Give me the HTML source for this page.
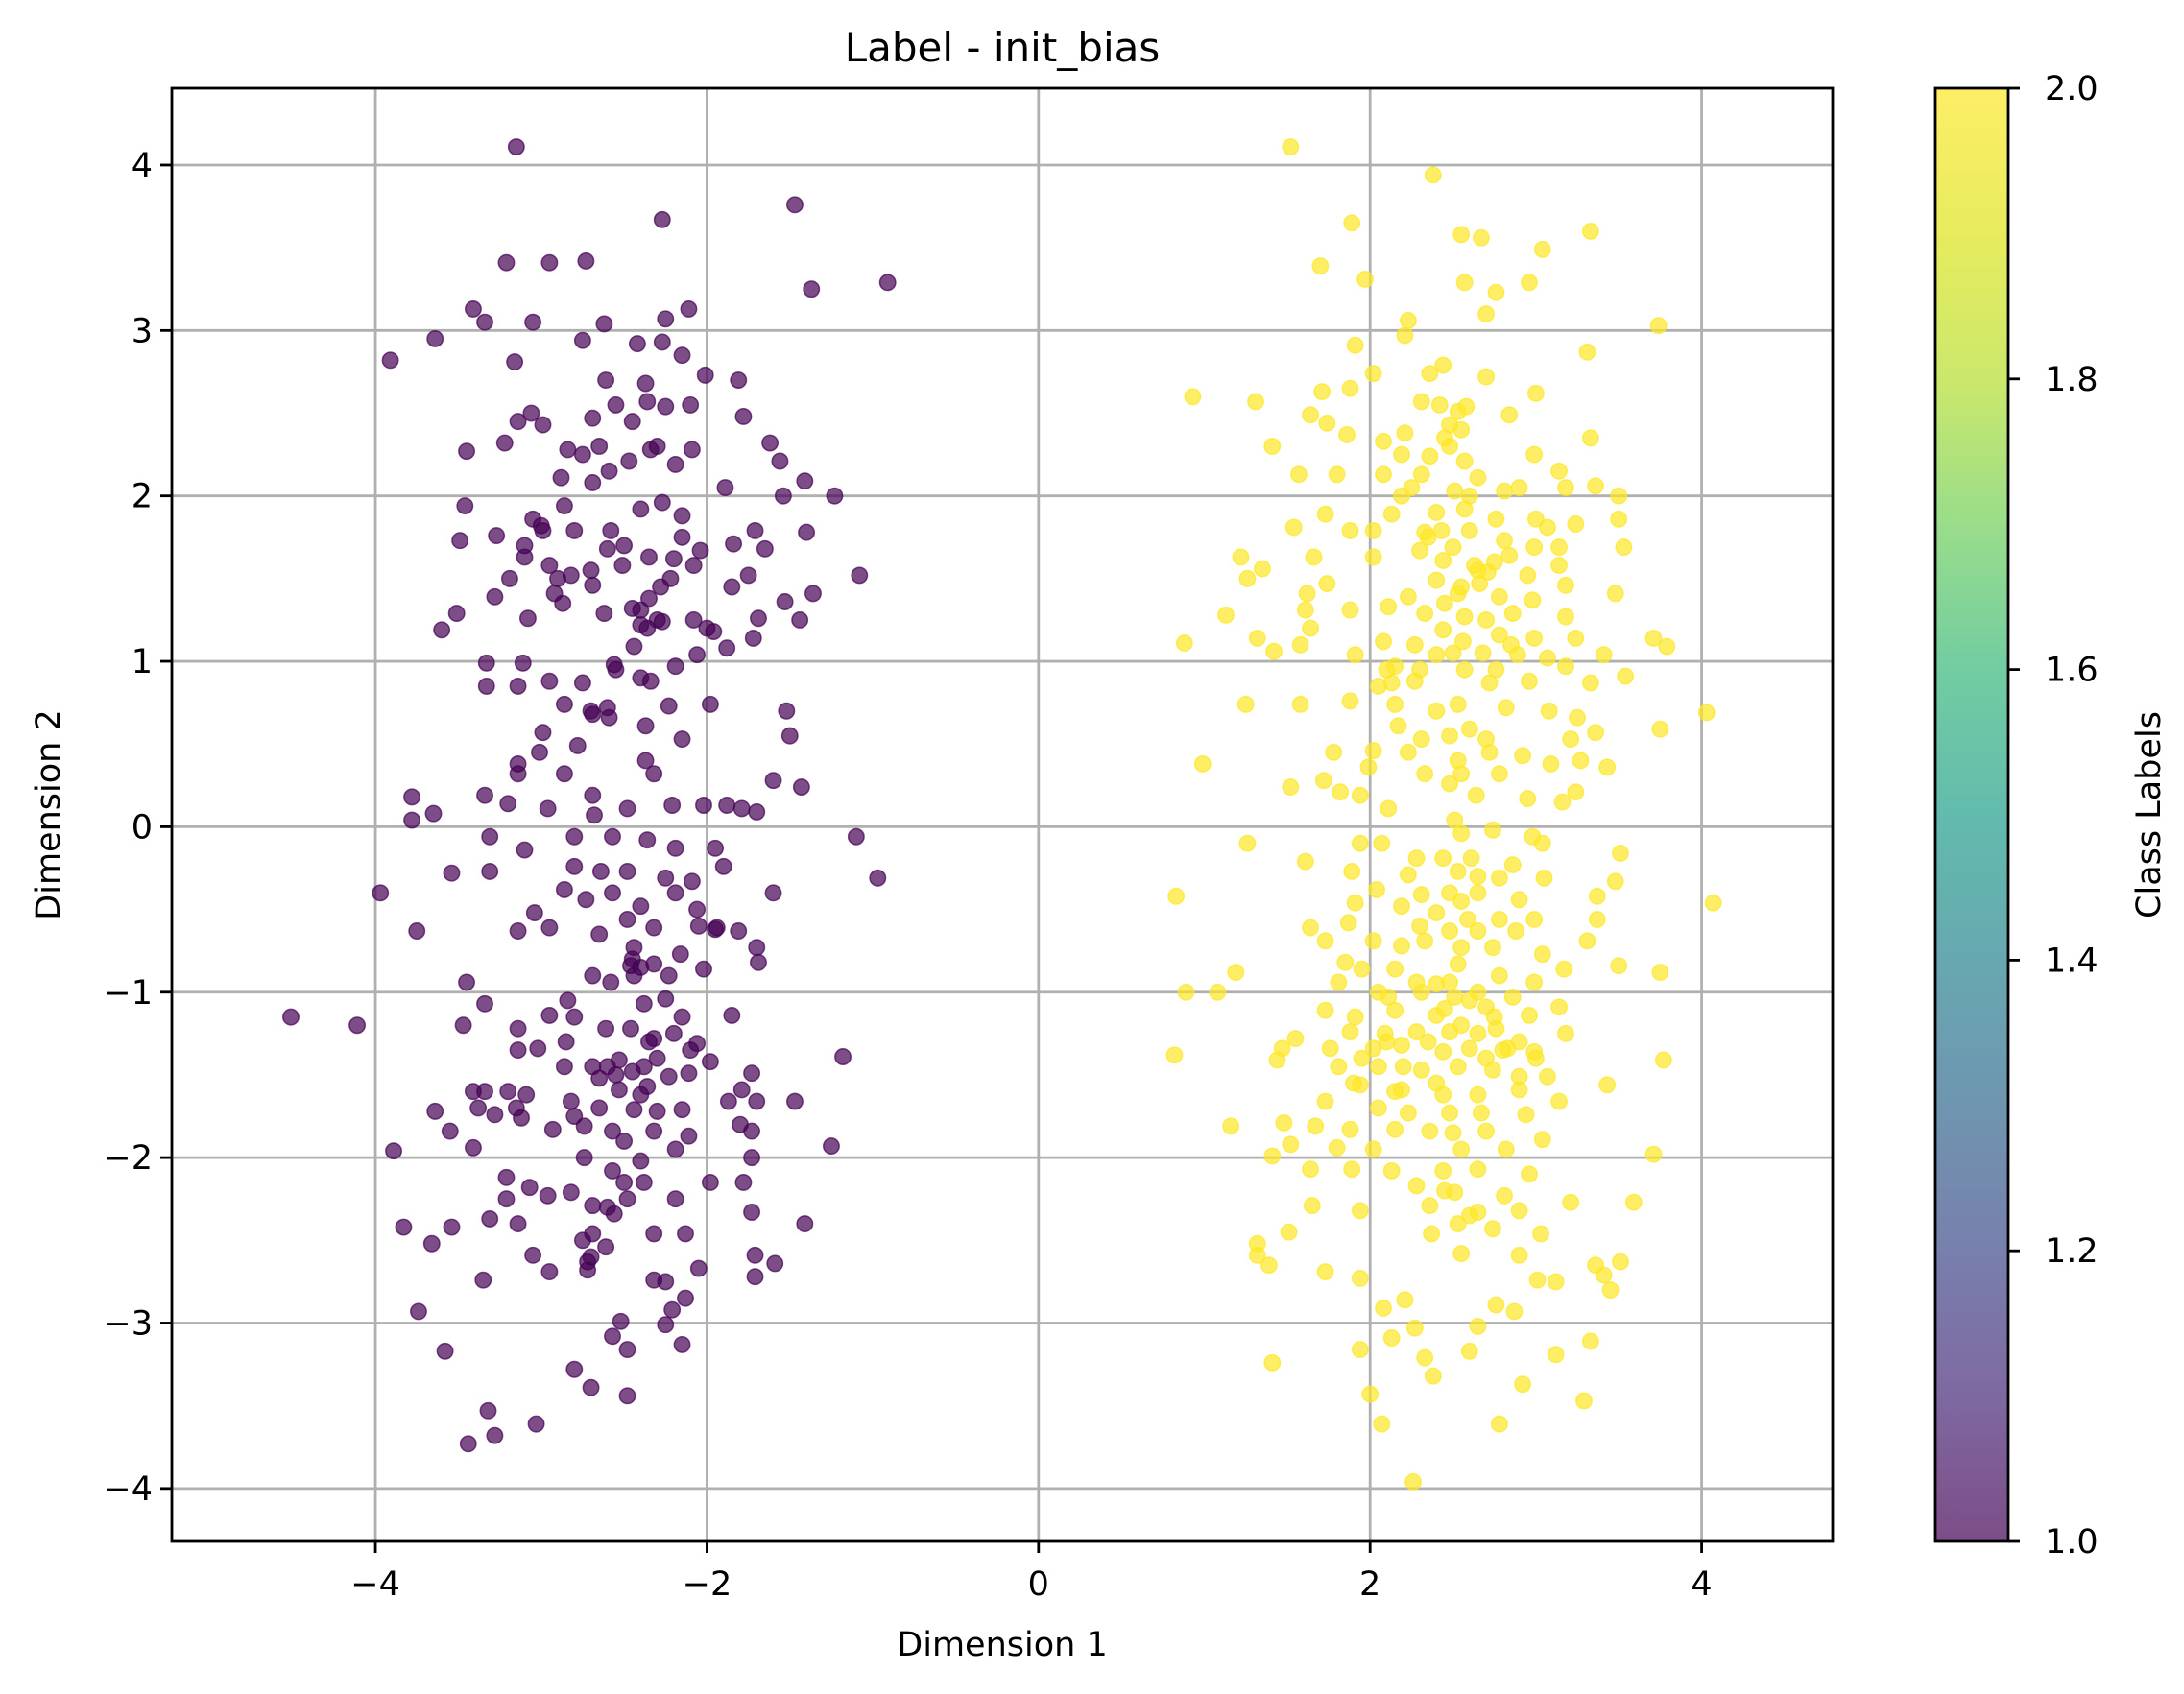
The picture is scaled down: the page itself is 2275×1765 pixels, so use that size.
<!DOCTYPE html>
<html><head><meta charset="utf-8"><style>
html,body{margin:0;padding:0;background:#fff;}
svg{display:block;font-family:"DejaVu Sans","Liberation Sans",sans-serif;}
</style></head><body>
<svg id="chart" width="2275" height="1765" viewBox="0 0 2275 1765">
<defs>
<linearGradient id="viridis" x1="0" y1="1" x2="0" y2="0">
<stop offset="0" stop-color="#440154"/><stop offset="0.1" stop-color="#482878"/><stop offset="0.2" stop-color="#3e4989"/><stop offset="0.3" stop-color="#31688e"/><stop offset="0.4" stop-color="#26828e"/><stop offset="0.5" stop-color="#1f9e89"/><stop offset="0.6" stop-color="#35b779"/><stop offset="0.7" stop-color="#6ece58"/><stop offset="0.8" stop-color="#b5de2b"/><stop offset="0.9" stop-color="#dde318"/><stop offset="1" stop-color="#fde725"/>
</linearGradient>
</defs>
<g id="grid"></g>
<g id="points"></g>
<rect x="179" y="92" width="1730" height="1514" fill="none" stroke="#000" stroke-width="2.8"/>
<g id="axes"></g>
<text x="1044" y="64" font-size="42" text-anchor="middle">Label - init_bias</text>
<text x="1044" y="1725" font-size="35" text-anchor="middle">Dimension 1</text>
<text x="0" y="0" font-size="35" text-anchor="middle" transform="translate(62,849) rotate(-90)">Dimension 2</text>
<rect x="2016" y="92" width="76" height="1514" fill="url(#viridis)" opacity="0.7"/>
<rect x="2016" y="92" width="76" height="1514" fill="none" stroke="#000" stroke-width="2.8"/>
<g id="cbar"></g>
<text x="0" y="0" font-size="35" text-anchor="middle" transform="translate(2250,849) rotate(-90)">Class Labels</text>
</svg>
<script>
const xTicks=[-4,-2,0,2,4];
const yTicks=[-4,-3,-2,-1,0,1,2,3,4];
const cbarTicks=[1.0,1.2,1.4,1.6,1.8,2.0];
const class1X=[-3.15,-2.27,-1.47,-1.37,-0.91,-3.21,-2.95,-2.73,-3.41,-3.34,-3.64,-3.91,-3.16,-3.05,-2.75,-2.62,-2.42,-2.27,-2.11,-2.25,-2.15,-2.01,-1.81,-2.61,-2.37,-3.06,-3.14,-2.99,-3.22,-3.45,-2.84,-2.69,-2.55,-2.36,-2.25,-2.10,-1.78,-1.62,-1.56,-1.41,-1.23,-1.54,-1.89,-2.09,-2.19,-2.34,-2.47,-2.59,-2.69,-2.88,-3.46,-3.49,-3.27,-3.05,-2.99,-2.86,-2.80,-2.58,-2.40,-2.27,-2.15,-2.04,-1.84,-1.71,-1.65,-1.40,-1.75,-2.08,-2.22,-2.35,-2.51,-2.69,-2.82,-2.95,-3.10,-3.19,-3.28,-3.08,-2.92,-2.87,-2.62,-2.40,-2.36,-2.44,-2.27,-2.08,-1.96,-1.69,-1.53,-1.36,-1.08,-1.44,-1.72,-1.88,-2.06,-2.19,-2.34,-2.56,-2.75,-2.95,-3.11,-3.33,-3.33,-3.14,-3.51,-3.60,-2.86,-2.69,-2.59,-2.37,-2.23,-1.98,-2.15,-2.37,-2.78,-2.99,-3.14,-3.01,-2.86,-3.14,-3.34,-3.20,-2.96,-2.69,-2.68,-2.48,-2.32,-2.21,-2.02,-1.88,-1.79,-1.70,-1.60,-1.52,-1.50,-1.43,-3.78,-3.65,-3.78,-1.10,-0.97,-3.97,-3.75,-3.54,-3.31,-3.31,-3.10,-2.80,-2.57,-2.36,-2.19,-1.95,-2.80,-2.64,-2.48,-2.25,-2.09,-1.90,-1.60,-2.86,-2.73,-2.57,-2.40,-2.19,-2.06,-3.04,-3.14,-2.95,-2.65,-2.48,-2.32,-1.94,-1.81,-1.70,-1.69,-2.44,-2.16,-2.46,-2.32,-2.69,-2.58,-2.44,-2.23,-2.02,-3.45,-3.34,-2.84,-2.38,-2.25,-2.15,-1.85,-4.51,-4.11,-3.47,-3.14,-2.95,-2.80,-2.61,-2.46,-2.32,-2.06,-1.98,-1.73,-1.18,-3.14,-3.02,-2.86,-2.69,-2.53,-2.38,-2.23,-2.11,-2.53,-2.65,-2.36,-3.41,-3.34,-3.09,-2.82,-2.44,-2.15,-1.87,-1.79,-1.70,-1.47,-3.64,-3.38,-3.28,-3.12,-2.93,-2.74,-2.57,-2.32,-2.11,-1.73,-3.89,-3.55,-3.41,-1.25,-2.50,-2.74,-2.40,-2.19,-1.73,-3.21,-3.07,-2.96,-2.82,-2.57,-2.38,-1.98,-1.78,-3.21,-2.69,-2.48,-2.19,-1.73,-2.56,-3.14,-2.69,-2.32,-2.13,-1.41,-3.83,-3.54,-3.31,-2.75,-2.61,-3.66,-1.59,-2.72,-3.05,-2.95,-2.72,-2.05,-1.71,-1.71,-3.35,-2.32,-2.25,-2.13,-2.21,-2.52,-2.25,-3.74,-2.57,-2.48,-3.58,-2.15,-2.80,-2.70,-2.48,-3.03,-3.32,-3.28,-3.44,
-2.35,-2.30,-2.40,-2.28,-2.45,-2.50,-2.20,-2.15,-2.60,-2.70,-2.90,-3.00,-3.10,-2.75,-2.65,-2.45,-2.30,-2.55,-2.40,-2.70,-2.60,-2.45,-2.40,-2.35,-2.30,-2.45,-2.55,-2.60,-2.20,-2.10,-2.85,-2.80,-2.65,-2.40,-2.30,-2.50,-2.60,-2.70,-3.20,-3.15,-1.80,-2.05,-1.95,-2.00,-1.85];
const class1Y=[4.11,3.67,3.76,3.25,3.29,3.41,3.41,3.42,3.13,3.05,2.95,2.82,2.81,3.05,2.94,3.04,2.92,2.93,3.13,3.07,2.85,2.73,2.70,2.70,2.68,2.50,2.45,2.43,2.32,2.27,2.28,2.47,2.55,2.57,2.54,2.55,2.48,2.32,2.21,2.09,2.00,2.00,2.05,2.28,2.19,2.28,2.21,2.15,2.08,2.11,1.94,1.73,1.76,1.86,1.79,1.94,1.79,1.79,1.92,1.96,1.88,1.67,1.71,1.79,1.68,1.78,1.52,1.58,1.50,1.63,1.58,1.46,1.52,1.58,1.63,1.50,1.39,1.26,1.41,1.35,1.29,1.31,1.20,1.09,1.24,1.25,1.18,1.26,1.36,1.41,1.52,1.25,1.14,1.08,1.04,0.97,0.88,0.98,0.87,0.88,0.99,0.99,0.85,0.85,1.29,1.19,0.74,0.68,0.66,0.61,0.73,0.74,0.53,0.40,0.49,0.57,0.38,0.45,0.32,0.32,0.19,0.14,0.11,0.19,0.07,0.11,0.32,0.13,0.13,0.13,0.11,0.09,0.28,0.70,0.55,0.24,0.18,0.08,0.04,-0.06,-0.31,-0.40,-0.63,-0.28,-0.06,-0.27,-0.14,-0.06,-0.06,-0.08,-0.13,-0.13,-0.24,-0.27,-0.27,-0.31,-0.33,-0.24,-0.40,-0.38,-0.44,-0.40,-0.48,-0.40,-0.50,-0.52,-0.63,-0.61,-0.65,-0.56,-0.61,-0.61,-0.63,-0.73,-0.82,-0.73,-0.77,-0.84,-0.83,-0.90,-0.94,-0.90,-0.90,-0.86,-0.94,-1.07,-1.05,-1.07,-1.04,-1.15,-1.14,-1.15,-1.20,-1.20,-1.22,-1.14,-1.15,-1.22,-1.22,-1.28,-1.31,-1.42,-1.49,-1.39,-1.35,-1.34,-1.45,-1.45,-1.41,-1.45,-1.51,-1.49,-1.59,-1.52,-1.57,-1.60,-1.60,-1.62,-1.66,-1.71,-1.71,-1.66,-1.59,-1.66,-1.66,-1.72,-1.70,-1.74,-1.76,-1.83,-1.81,-1.84,-1.84,-1.87,-1.84,-1.96,-1.84,-1.94,-1.93,-1.90,-2.00,-2.02,-1.95,-2.00,-2.12,-2.18,-2.23,-2.21,-2.08,-2.15,-2.15,-2.15,-2.25,-2.29,-2.25,-2.25,-2.33,-2.34,-2.40,-2.46,-2.46,-2.46,-2.40,-2.42,-2.42,-2.37,-2.50,-2.54,-2.52,-2.64,-2.63,-2.59,-2.69,-2.68,-2.67,-2.59,-2.72,-2.74,-2.74,-2.75,-2.85,-2.92,-2.99,-3.01,-2.93,-3.08,-3.16,-3.17,-3.13,-3.28,-3.39,-3.44,-3.61,-3.53,-3.68,-3.73,
1.38,1.25,1.22,1.45,1.32,1.70,1.62,1.75,1.68,1.55,1.50,1.82,1.70,2.25,2.30,2.45,2.30,0.95,0.90,0.70,0.72,-0.80,-0.85,-1.30,-1.40,-1.48,-1.50,-1.45,-1.25,-1.35,-1.30,-1.75,-1.70,-1.62,-1.72,-2.15,-2.30,-2.60,-1.60,-1.70,-1.80,-0.60,-0.62,1.20,1.45];
const class2X=[1.52,2.38,1.89,2.55,2.67,3.33,3.04,1.70,1.97,2.57,2.76,2.96,2.70,2.23,2.21,3.74,1.91,3.31,0.93,1.31,1.71,1.88,2.02,2.36,2.44,2.70,3.00,1.64,1.74,2.31,2.42,2.53,2.58,2.84,1.86,2.08,2.21,2.48,3.33,1.41,2.48,2.19,2.36,2.57,2.99,1.57,1.80,2.08,2.31,2.65,3.14,3.36,2.19,2.51,2.81,2.90,3.18,3.50,1.73,2.13,2.57,2.76,3.00,3.50,1.54,1.88,2.02,2.33,2.43,2.60,3.07,3.24,2.50,2.81,2.99,3.14,3.53,1.22,1.66,2.02,2.30,2.44,2.63,2.84,3.14,1.35,2.71,2.95,1.26,1.74,2.40,2.66,3.18,1.62,2.23,2.53,2.78,2.98,3.48,1.61,1.88,2.11,2.33,2.57,2.86,3.18,1.13,1.64,2.44,2.78,2.99,3.24,1.32,1.58,2.08,2.27,2.56,3.71,3.79,0.88,1.42,1.91,2.40,2.68,2.89,3.07,3.41,2.15,2.57,2.76,3.18,2.13,2.27,2.72,2.96,3.33,3.54,1.25,1.58,1.88,2.15,2.40,2.53,2.82,3.08,3.25,4.03,3.75,2.17,2.60,2.31,2.48,2.70,3.21,3.36,1.78,2.02,2.23,2.53,2.72,2.92,3.09,3.27,0.99,1.99,2.33,2.55,2.78,3.43,1.52,1.72,1.82,1.94,2.11,2.48,2.64,2.95,3.16,3.24,2.51,2.55,2.74,2.98,3.04,1.26,1.94,2.07,2.28,2.44,2.61,2.86,3.51,1.61,1.89,2.23,2.53,2.78,3.05,3.48,2.04,2.31,2.48,2.65,2.90,3.37,0.83,4.07,1.91,2.19,2.40,2.59,2.78,2.99,3.37,1.64,1.87,2.48,2.65,2.88,1.73,2.02,2.19,2.33,2.55,2.74,3.04,3.31,1.85,1.95,2.15,2.53,3.17,3.50,3.75,1.19,1.81,2.28,2.48,2.78,2.99,0.89,1.08,2.11,2.31,2.51,2.65,2.86,3.14,1.73,1.91,2.15,2.40,2.70,2.96,1.88,2.09,2.28,2.48,2.76,3.18,1.55,1.47,1.76,2.02,2.19,2.44,2.60,2.83,2.99,0.82,1.44,3.77,1.81,2.05,2.31,2.53,2.74,2.90,3.07,3.43,1.94,2.19,2.44,2.65,2.90,3.14,1.73,2.05,2.23,2.48,2.67,2.94,1.16,1.48,1.67,1.88,2.15,2.36,2.70,3.04,1.80,2.02,2.55,2.82,3.71,1.41,1.52,1.64,1.89,2.13,2.44,2.65,2.96,2.28,2.51,2.81,3.21,3.59,1.65,1.94,2.36,2.65,2.90,3.03,2.37,2.53,2.74,1.51,1.73,1.32,1.32,1.39,2.55,2.90,3.36,3.51,3.41,3.45,3.01,3.12,1.94,2.76,2.87,2.21,2.08,2.65,2.27,2.13,3.33,1.94,2.60,3.12,2.33,1.41,2.38,2.92,2.00,3.29,2.78,2.07,2.26,
2.55,2.65,2.75,2.45,2.35,2.40,2.60,2.70,2.85,2.50,2.30,2.10,2.05,2.55,2.45,2.25,2.55,2.65,2.45,2.35,2.70,2.80,2.90,3.00,2.10,2.20,2.15,2.40,2.60,2.75,2.40,2.30,2.55,2.65,2.05,2.50,2.45,2.60,1.90,1.95];
const class2Y=[4.11,3.94,3.65,3.58,3.56,3.60,3.49,3.39,3.31,3.29,3.23,3.29,3.10,3.06,2.97,3.03,2.91,2.87,2.60,2.57,2.63,2.65,2.74,2.74,2.79,2.72,2.62,2.49,2.44,2.57,2.55,2.51,2.54,2.49,2.37,2.33,2.38,2.43,2.35,2.30,2.30,2.25,2.24,2.21,2.25,2.13,2.13,2.13,2.13,2.11,2.15,2.06,2.00,2.03,2.03,2.05,2.05,2.00,1.89,1.89,1.92,1.86,1.86,1.86,1.81,1.79,1.79,1.78,1.79,1.79,1.81,1.83,1.69,1.73,1.69,1.69,1.69,1.63,1.63,1.63,1.67,1.61,1.58,1.64,1.58,1.56,1.54,1.52,1.50,1.47,1.49,1.47,1.46,1.41,1.39,1.41,1.39,1.37,1.41,1.31,1.31,1.33,1.29,1.27,1.29,1.27,1.28,1.20,1.19,1.16,1.14,1.14,1.14,1.10,1.12,1.10,1.12,1.14,1.09,1.11,1.06,1.04,1.04,1.05,1.04,1.02,1.04,0.97,0.95,0.95,0.97,0.87,0.88,0.87,0.88,0.87,0.91,0.74,0.74,0.76,0.74,0.70,0.74,0.72,0.70,0.66,0.69,0.59,0.61,0.59,0.53,0.55,0.53,0.53,0.57,0.45,0.46,0.45,0.40,0.45,0.43,0.38,0.40,0.38,0.36,0.32,0.32,0.32,0.36,0.24,0.28,0.21,0.19,0.11,0.26,0.19,0.17,0.15,0.21,0.04,-0.04,-0.02,-0.06,-0.10,-0.10,-0.10,-0.10,-0.19,-0.19,-0.19,-0.23,-0.16,-0.21,-0.27,-0.29,-0.27,-0.31,-0.31,-0.33,-0.38,-0.41,-0.40,-0.40,-0.44,-0.42,-0.42,-0.46,-0.46,-0.48,-0.52,-0.56,-0.56,-0.56,-0.56,-0.61,-0.58,-0.63,-0.63,-0.63,-0.69,-0.69,-0.72,-0.69,-0.73,-0.73,-0.77,-0.69,-0.82,-0.86,-0.86,-0.83,-0.86,-0.84,-0.88,-0.88,-0.94,-0.94,-0.94,-0.90,-0.94,-1.00,-1.00,-1.03,-1.00,-1.03,-1.00,-1.03,-1.09,-1.11,-1.15,-1.11,-1.14,-1.09,-1.14,-1.24,-1.25,-1.24,-1.24,-1.22,-1.25,-1.28,-1.34,-1.34,-1.34,-1.32,-1.36,-1.34,-1.34,-1.36,-1.38,-1.41,-1.41,-1.45,-1.45,-1.47,-1.45,-1.47,-1.51,-1.51,-1.56,-1.56,-1.59,-1.62,-1.62,-1.59,-1.66,-1.66,-1.70,-1.73,-1.73,-1.73,-1.74,-1.81,-1.79,-1.81,-1.83,-1.83,-1.84,-1.84,-1.89,-1.94,-1.95,-1.95,-1.95,-1.98,-1.99,-1.92,-2.07,-2.07,-2.08,-2.08,-2.07,-2.10,-2.17,-2.21,-2.23,-2.27,-2.27,-2.29,-2.32,-2.29,-2.33,-2.32,-2.46,-2.46,-2.40,-2.43,-2.45,-2.69,-2.52,-2.59,-2.65,-2.58,-2.59,-2.65,-2.63,-2.71,-2.80,-2.74,-2.75,-2.73,-2.89,-2.93,-2.86,-2.91,-3.02,-3.03,-3.09,-3.11,-3.16,-3.17,-3.19,-3.21,-3.24,-3.32,-3.37,-3.43,-3.47,-3.61,-3.61,-3.96,
1.45,1.55,1.60,1.35,1.75,1.90,2.00,1.25,1.10,1.05,0.95,0.95,0.85,2.40,2.35,2.05,-1.20,-1.25,-1.10,-1.30,-1.40,-1.35,-1.30,-1.40,-1.30,-1.45,-1.60,-1.55,-1.05,-1.15,-0.95,-0.60,-0.45,-0.30,-1.00,-1.85,-2.20,-2.35,-1.55,-1.40];

const NS='http://www.w3.org/2000/svg';
const L=179,R=1909,T=92,B=1606;
const xMin=-5.228,xMax=4.79,yMin=-4.32,yMax=4.464;
function sx(v){return L+(v-xMin)/(xMax-xMin)*(R-L);}
function sy(v){return B-(v-yMin)/(yMax-yMin)*(B-T);}
function cy(v){return B-(v-1)/(2-1)*(B-T);}
function mk(tag,attrs,parent){const e=document.createElementNS(NS,tag);for(const k in attrs)e.setAttribute(k,attrs[k]);parent.appendChild(e);return e;}
const grid=document.getElementById('grid'),axes=document.getElementById('axes'),pts=document.getElementById('points'),cb=document.getElementById('cbar');
xTicks.forEach(v=>{
  const g=mk('line',{x1:sx(v),x2:sx(v),y1:T,y2:B,stroke:'#b0b0b0','stroke-width':2.8},grid);
  
  
  const t=mk('line',{x1:sx(v),x2:sx(v),y1:B,y2:B+12,stroke:'#000','stroke-width':2.8},axes);
  
  
  const lb=mk('text',{x:sx(v),y:B+56,'font-size':35,'text-anchor':'middle'},axes);
  lb.textContent=(v<0?'\u2212':'')+Math.abs(v);
  
  
});
yTicks.forEach(v=>{
  const g=mk('line',{x1:L,x2:R,y1:sy(v),y2:sy(v),stroke:'#b0b0b0','stroke-width':2.8},grid);
  
  
  const t=mk('line',{x1:L-12,x2:L,y1:sy(v),y2:sy(v),stroke:'#000','stroke-width':2.8},axes);
  
  
  const lb=mk('text',{x:L-20,y:sy(v)+12,'font-size':35,'text-anchor':'end'},axes);
  lb.textContent=(v<0?'\u2212':'')+Math.abs(v);
  
  
});
function drawSeries(xs,ys,color,name){
  for(let i=0;i<xs.length;i++){
    const c=mk('circle',{cx:sx(xs[i]),cy:sy(ys[i]),r:8.2,fill:color,'fill-opacity':0.7,stroke:color,'stroke-opacity':0.7,'stroke-width':1.5},pts);
    
    
  }
}
drawSeries(class1X,class1Y,'#440154','point-class-1');
drawSeries(class2X,class2Y,'#fde725','point-class-2');
cbarTicks.forEach(v=>{
  const t=mk('line',{x1:2092,x2:2104,y1:cy(v),y2:cy(v),stroke:'#000','stroke-width':2.8},cb);
  
  
  const lb=mk('text',{x:2130,y:cy(v)+12,'font-size':35},cb);
  lb.textContent=v.toFixed(1);
  
  
});
</script>
</body></html>
